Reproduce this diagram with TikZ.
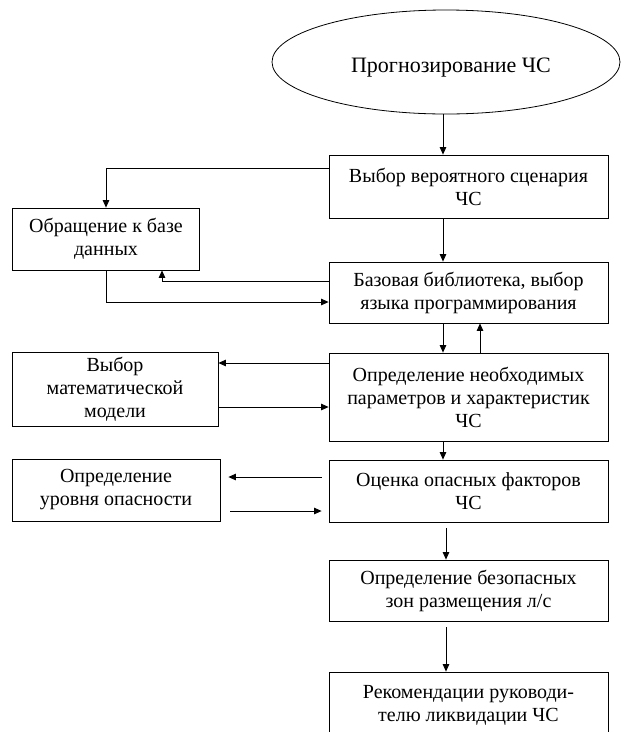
\documentclass[tikz,border=0pt]{standalone}
\usepackage{fontspec}
\setmainfont{Liberation Serif}
\usetikzlibrary{arrows.meta,shapes.geometric,calc}
\begin{document}
\begin{tikzpicture}[x=1pt,y=-1pt,
  every node/.style={font=\fontsize{20}{23}\selectfont},
  box/.style={draw,line width=0.8pt,align=center,inner sep=0pt},
  arr/.style={draw,line width=0.8pt,-{Triangle[length=7.5pt,width=6.5pt]}}]
\useasboundingbox (0,0) rectangle (622,732);
\clip (0,0) rectangle (622,732);
\node[draw,line width=0.8pt,ellipse,minimum width=348pt,minimum height=104pt,inner sep=0pt] (ell) at (446,62) {};
\node[font=\fontsize{22}{24}\selectfont] at (451,68) (ellt) {Прогнозирование ЧС};
\node[box,minimum width=279pt,minimum height=63pt] (b1) at (468.5,186.5) {Выбор вероятного сценария\\ЧС};
\node[box,minimum width=187pt,minimum height=62pt] (db) at (106,239) {Обращение к базе\\данных};
\node[box,minimum width=279pt,minimum height=61pt] (b3) at (468.5,292.5) {Базовая библиотека, выбор\\языка программирования};
\node[box,minimum width=279pt,minimum height=88pt] (b4) at (468.5,397) {Определение необходимых\\параметров и характеристик\\ЧС};
\node[box,minimum width=206pt,minimum height=74pt] (mm) at (115,389) {Выбор\\математической\\модели};
\node[box,minimum width=208pt,minimum height=62pt] (lvl) at (116,490) {Определение\\уровня опасности};
\node[box,minimum width=279pt,minimum height=62pt] (b5) at (468.5,491) {Оценка опасных факторов\\ЧС};
\node[box,minimum width=279pt,minimum height=61pt] (b6) at (468.5,590.5) {Определение безопасных\\зон размещения л/с};
\node[box,minimum width=279pt,minimum height=66pt] (b7) at (468.5,705) {Рекомендации руководи-\\телю ликвидации ЧС};
\coordinate (xa) at (443,0);
\coordinate (xb) at (480,0);
\coordinate (xc) at (446,0);
% vertical main flow
\draw[arr] (ell.south -| xa) -- (b1.north -| xa);
\draw[arr] (b1.south -| xa) -- (b3.north -| xa);
\draw[arr] (b3.south -| xa) -- (b4.north -| xa);
\draw[arr] (b4.north -| xb) -- (b3.south -| xb);
\draw[arr] (b4.south -| xa) -- (b5.north -| xa);
\draw[arr,shorten <=6pt] (b5.south -| xc) -- (b6.north -| xc);
\draw[arr,shorten <=6pt] (b6.south -| xc) -- (b7.north -| xc);
% data base loop
\draw[arr] ([yshift=18.5pt]b1.west) -| (db.north);
\draw[arr] ([yshift=11.5pt]b3.west) -| ([xshift=56pt]db.south);
\draw[arr] (db.south) |- ([yshift=-9.5pt]b3.west);
% math model
\draw[arr] ([yshift=34pt]b4.west) -- ([yshift=34pt]b4.west -| mm.east);
\draw[arr] ([yshift=-18pt]mm.east) -- ([yshift=-18pt]mm.east -| b4.west);
% level of danger
\draw[arr,shorten <=7pt,shorten >=8pt] ([yshift=14pt]b5.west) -- ([yshift=14pt]b5.west -| lvl.east);
\draw[arr,shorten <=10pt,shorten >=7pt] ([yshift=-21pt]lvl.east) -- ([yshift=-21pt]lvl.east -| b5.west);
\end{tikzpicture}
\end{document}
